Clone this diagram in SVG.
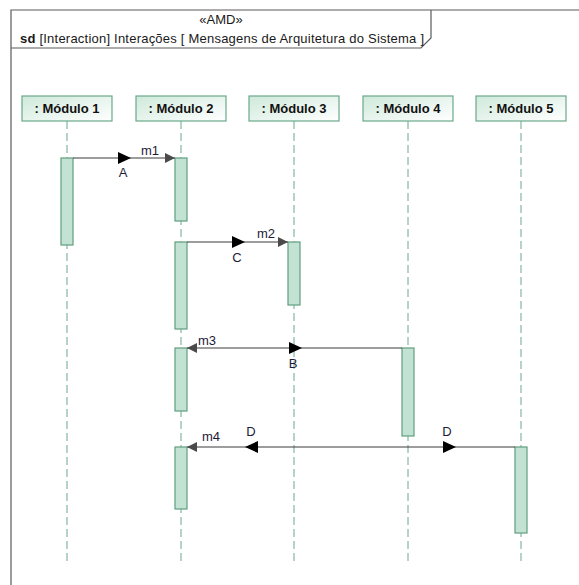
<svg xmlns="http://www.w3.org/2000/svg" width="579" height="585" viewBox="0 0 579 585">
  <defs>
    <linearGradient id="headFill" x1="0" y1="0" x2="1" y2="1">
      <stop offset="0" stop-color="#cfe9db"/>
      <stop offset="1" stop-color="#ffffff"/>
    </linearGradient>
    <marker id="msgEnd" viewBox="0 0 10 10" refX="10" refY="5" markerWidth="10" markerHeight="10" markerUnits="userSpaceOnUse" orient="auto">
      <path d="M0,0 L10,5 L0,10 Z" fill="#4a4a4a"/>
    </marker>
  </defs>
  <style>
    .frame { fill: none; stroke: #5a5a5a; stroke-width: 1.2; }
    .txt { font-family: "Liberation Sans", Arial, sans-serif; font-size: 13px; fill: #1a1a1a; }
    .box { fill: url(#headFill); stroke: #6aa88a; stroke-width: 1.2; }
    .name { font-family: "Liberation Sans", Arial, sans-serif; font-size: 13px; font-weight: bold; fill: #111; text-anchor: middle; }
    .life { stroke: #6aa88a; stroke-width: 1; stroke-dasharray: 8 4; }
    .act { fill: #c2e3d3; stroke: #5f9e7f; stroke-width: 1.2; }
    .msg { stroke: #3a3a3a; stroke-width: 1; fill: none; marker-end: url(#msgEnd); }
    .mid { fill: #000; }
    .lbl { font-family: "Liberation Sans", Arial, sans-serif; font-size: 13px; fill: #1c1c3a; text-anchor: middle; }
  </style>

  <rect width="579" height="585" fill="#ffffff"/>

  <!-- interaction frame -->
  <g id="frame">
    <path class="frame" d="M11,590 L11,10 L590,10"/>
    <path class="frame" d="M11,48 L421,48 L431,38 L431,10"/>
    <text class="txt" x="221" y="24" text-anchor="middle">«AMD»</text>
    <text class="txt" x="20" y="43" textLength="404" lengthAdjust="spacing"><tspan font-weight="bold">sd</tspan> [Interaction] Interações [ Mensagens de Arquitetura do Sistema ]</text>
  </g>

  <!-- lifelines -->
  <g id="modulo1">
    <line class="life" x1="67" y1="121" x2="67" y2="561"/>
    <rect class="box" x="22" y="96" width="90" height="25"/>
    <text class="name" x="67" y="113">: Módulo 1</text>
    <rect class="act" x="61" y="158" width="12" height="87"/>
  </g>
  <g id="modulo2">
    <line class="life" x1="181" y1="121" x2="181" y2="561"/>
    <rect class="box" x="136" y="96" width="90" height="25"/>
    <text class="name" x="181" y="113">: Módulo 2</text>
    <rect class="act" x="175" y="158" width="12" height="63"/>
    <rect class="act" x="175" y="242" width="12" height="87"/>
    <rect class="act" x="175" y="348" width="12" height="63"/>
    <rect class="act" x="175" y="447" width="12" height="62"/>
  </g>
  <g id="modulo3">
    <line class="life" x1="294" y1="121" x2="294" y2="561"/>
    <rect class="box" x="249" y="96" width="90" height="25"/>
    <text class="name" x="294" y="113">: Módulo 3</text>
    <rect class="act" x="288" y="242" width="12" height="63"/>
  </g>
  <g id="modulo4">
    <line class="life" x1="408" y1="121" x2="408" y2="561"/>
    <rect class="box" x="363" y="96" width="90" height="25"/>
    <text class="name" x="408" y="113">: Módulo 4</text>
    <rect class="act" x="402" y="348" width="12" height="88"/>
  </g>
  <g id="modulo5">
    <line class="life" x1="521" y1="121" x2="521" y2="561"/>
    <rect class="box" x="476" y="96" width="90" height="25"/>
    <text class="name" x="521" y="113">: Módulo 5</text>
    <rect class="act" x="515" y="447" width="12" height="86"/>
  </g>

  <!-- messages -->
  <g id="connectors">
    <line class="msg" x1="73" y1="158" x2="175" y2="158"/>
    <path class="mid" d="M118,152 L131,158 L118,164 Z"/>
    <text class="lbl" x="150" y="155">m1</text>
    <text class="lbl" x="123" y="177">A</text>

    <line class="msg" x1="187" y1="242" x2="288" y2="242"/>
    <path class="mid" d="M232,236 L245,242 L232,248 Z"/>
    <text class="lbl" x="266" y="238">m2</text>
    <text class="lbl" x="237" y="262">C</text>

    <line class="msg" x1="402" y1="348" x2="187" y2="348"/>
    <path class="mid" d="M289,342 L302,348 L289,354 Z"/>
    <text class="lbl" x="207" y="345">m3</text>
    <text class="lbl" x="293" y="368">B</text>

    <line class="msg" x1="515" y1="447" x2="187" y2="447"/>
    <path class="mid" d="M258,441 L245,447 L258,453 Z"/>
    <path class="mid" d="M443,441 L456,447 L443,453 Z"/>
    <text class="lbl" x="211" y="441">m4</text>
    <text class="lbl" x="251" y="436">D</text>
    <text class="lbl" x="447" y="436">D</text>
  </g>
</svg>
